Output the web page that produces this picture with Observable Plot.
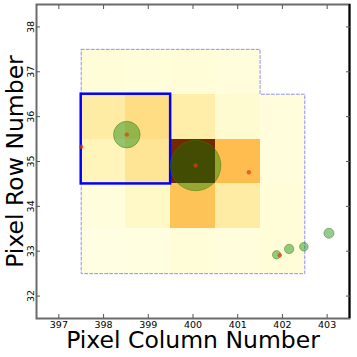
<!DOCTYPE html>
<html><head><meta charset="utf-8">
<script src="https://cdn.jsdelivr.net/npm/d3@7"></script>
<script src="https://cdn.jsdelivr.net/npm/@observablehq/plot@0.6"></script>
<style>body{margin:0;background:#fff;font-family:"DejaVu Sans",sans-serif}</style>
</head><body><div id="chart"></div>
<script>
// Pixel grid (column, row, normalized flux)
const pixelCol  = [398,399,400,401,     398,399,400,401,402,  398,399,400,401,402,  398,399,400,401,402,  398,399,400,401,402];
const pixelRow  = [37,37,37,37,         36,36,36,36,36,       35,35,35,35,35,       34,34,34,34,34,       33,33,33,33,33];
const pixelFlux = [0.04,0.035,0.04,0.03, 0.19,0.27,0.18,0.06,0.03, 0.13,0.23,0.97,0.39,0.03, 0.03,0.09,0.37,0.19,0.04, 0.01,0.015,0.04,0.03,0.04];

// Outline of the downloaded pixel mask (pixel edges)
const outlineCol = [397.5,401.5,401.5,402.5,402.5,397.5,397.5];
const outlineRow = [37.5,37.5,36.5,36.5,32.5,32.5,37.5];

// Optimal aperture pixels
const apertureCols = [398,399];
const apertureRows = [35,36];

// Nearby stars (green circles) and their relative brightness
const starCol  = [398.52,400.06,401.87,402.15,402.48,403.04];
const starRow  = [35.60,34.91,32.92,33.05,33.10,33.40];
const starFlux = [177,635,17.6,22,18.5,25];

// Catalog positions (red dots)
const dotCol = [397.5,398.52,400.06,401.25,401.94];
const dotRow = [35.33,35.60,34.91,34.76,32.91];

const xTicks = [397,398,399,400,401,402,403];
const yTicks = [32,33,34,35,36,37,38];
const xDomain = [396.5,403.5];
const yDomain = [31.5,38.5];

const cells = pixelCol.map((c,i)=>({col:c,row:pixelRow[i],flux:pixelFlux[i]}));
const outline = outlineCol.map((c,i)=>({col:c,row:outlineRow[i]}));
const aperture = [{x1:d3.min(apertureCols)-0.5,x2:d3.max(apertureCols)+0.5,y1:d3.min(apertureRows)-0.5,y2:d3.max(apertureRows)+0.5}];
const stars = starCol.map((c,i)=>({col:c,row:starRow[i],flux:starFlux[i]}));
const dots = dotCol.map((c,i)=>({col:c,row:dotRow[i]}));

const chart = Plot.plot({
  width:357, height:357,
  marginLeft:36, marginRight:8, marginTop:4, marginBottom:39,
  style:{fontFamily:"DejaVu Sans, sans-serif", background:"#fff"},
  x:{domain:xDomain},
  y:{domain:yDomain},
  color:{type:"linear", scheme:"YlOrBr", domain:[0,1]},
  r:{type:"sqrt", domain:[0,635], range:[0,25.2]},
  marks:[
    Plot.rect(cells,{x1:d=>d.col-0.5,x2:d=>d.col+0.5,y1:d=>d.row-0.5,y2:d=>d.row+0.5,fill:"flux",shapeRendering:"crispEdges"}),
    Plot.line(outline,{x:"col",y:"row",stroke:"#8f8ff2",strokeWidth:1,strokeDasharray:"3,2"}),
    Plot.rect(aperture,{x1:"x1",x2:"x2",y1:"y1",y2:"y2",fill:"none",stroke:"#0000ff",strokeWidth:2.5}),
    Plot.dot(stars,{x:"col",y:"row",r:"flux",fill:"#008000",fillOpacity:0.42,stroke:"#3a7a00",strokeOpacity:0.45,strokeWidth:1}),
    Plot.dot(dots,{x:"col",y:"row",r:2.2,fill:"#dd3c14",fillOpacity:0.7}),
    Plot.frame({stroke:"#6b6b6b",strokeWidth:2}),
    Plot.ruleX([xDomain[1]],{stroke:"#000",strokeWidth:2}),
    Plot.axisX(xTicks,{anchor:"bottom",tickSize:0,tickPadding:3,fontSize:9.5,label:null,fill:"#000"}),
    Plot.axisX(xTicks,{anchor:"bottom",tickSize:-4,text:null,label:null,stroke:"#555"}),
    Plot.axisX(xTicks,{anchor:"top",tickSize:-4,text:null,label:null,stroke:"#555"}),
    Plot.axisY(yTicks,{anchor:"left",tickSize:0,tickPadding:3,tickRotate:-90,fontSize:9.5,label:null,fill:"#000"}),
    Plot.axisY(yTicks,{anchor:"left",tickSize:-4,text:null,label:null,stroke:"#555"}),
    Plot.axisY(yTicks,{anchor:"right",tickSize:-4,text:null,label:null,stroke:"#555"}),
    Plot.text(["Pixel Column Number"],{frameAnchor:"bottom",textAnchor:"middle",lineAnchor:"top",dy:13,fontSize:23.5,fill:"#000"}),
    Plot.text(["Pixel Row Number"],{frameAnchor:"left",textAnchor:"middle",rotate:-90,lineAnchor:"bottom",dx:-14,fontSize:23.5,fill:"#000"})
  ]
});
document.getElementById("chart").appendChild(chart);
</script>
</body></html>
